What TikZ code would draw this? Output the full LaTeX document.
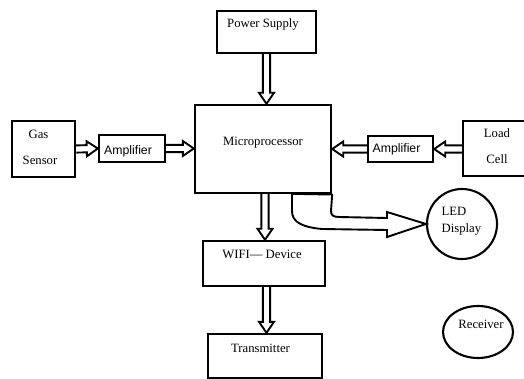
\documentclass[tikz,border=0pt]{standalone}
\usepackage{fontspec}
\setmainfont{Liberation Serif}
\newfontfamily\arialfont{Liberation Sans}
\usetikzlibrary{calc,shapes.geometric}
\tikzset{
  box/.style={draw, line width=2.4pt, rectangle, inner sep=0pt},
  roundbox/.style={draw, line width=2.1pt, inner sep=0pt},
  lbl/.style={font=\fontsize{12.7}{14}\selectfont, inner sep=0pt},
  slbl/.style={font=\arialfont\fontsize{12.3}{14}\selectfont, inner sep=0pt},
  harrow/.style={draw, line width=1.9pt, line join=miter},
}
\newcommand\hollowarrow[2]{%
  \coordinate (hA) at (#1);
  \coordinate (hB) at (#2);
  \coordinate (hP) at ($(hB)!11pt!(hA)$);
  \draw[harrow] ($(hA)!3.6pt!90:(hB)$) -- ($(hP)!3.6pt!90:(hB)$) -- ($(hP)!7.5pt!90:(hB)$)
     -- (hB) -- ($(hP)!7.5pt!-90:(hB)$) -- ($(hP)!3.6pt!-90:(hB)$) -- ($(hA)!3.6pt!-90:(hB)$);
}
\begin{document}
\begin{tikzpicture}[x=1pt,y=-1pt]
\useasboundingbox (0,0) rectangle (524,379);
% boxes
\node[box, minimum width=99pt, minimum height=42pt] (power) at (266.5,32) {};
\node[box, minimum width=136pt, minimum height=88pt] (micro) at (263,149) {};
\node[box, minimum width=63pt, minimum height=56pt] (gas) at (43.5,149) {};
\node[box, minimum width=66pt, minimum height=27pt] (ampL) at (132,148.5) {};
\node[box, minimum width=65pt, minimum height=26pt] (ampR) at (400.5,149) {};
\node[box, minimum width=70pt, minimum height=55pt] (load) at (498,148.5) {};
\node[box, minimum width=122pt, minimum height=45pt] (wifi) at (264,263.5) {};
\node[box, minimum width=114pt, minimum height=44pt] (trans) at (265,356) {};
\node[roundbox, circle, minimum size=70pt] (led) at (462,224) {};
\node[roundbox, ellipse, minimum width=70pt, minimum height=52pt] (recv) at (478,332) {};
% texts
\node[lbl] (powert) at (263,24) {Power Supply};
\node[lbl] (microt) at (263,143) {Microprocessor};
\node[lbl] (gast1) at (38.5,134) {Gas};
\node[lbl] (gast2) at (40,160) {Sensor};
\node[slbl] (ampLt) at (128,151) {Amplifier};
\node[slbl] (ampRt) at (396.5,149) {Amplifier};
\node[lbl] (loadt1) at (497,133) {Load};
\node[lbl] (loadt2) at (497,159) {Cell};
\node[lbl] (wifit) at (262,254) {WIFI\textemdash\ Device};
\node[lbl] (transt) at (260.5,348) {Transmitter};
\node[lbl, anchor=west] (ledt1) at (441.5,211) {LED};
\node[lbl, anchor=west] (ledt2) at (441.5,229) {Display};
\node[lbl] (recvt) at (481,324) {Receiver};
% straight hollow arrows
\hollowarrow{power.south}{power.south |- micro.north}
\hollowarrow{gas.east}{ampL.west}
\hollowarrow{ampL.east}{micro.west |- ampL.east}
\hollowarrow{load.west |- ampR.east}{ampR.east}
\hollowarrow{ampR.west}{micro.east |- ampR.west}
\coordinate (mw) at ($(micro.south)+(2,0)$);
\hollowarrow{mw}{mw |- wifi.north}
\coordinate (wt) at ($(wifi.south)+(2.5,0)$);
\hollowarrow{wt}{wt |- trans.north}
% curved hollow arrow to LED display
\draw[harrow] (micro.south east) -- (331,211) .. controls (331,215) and (333,217) .. (339,217)
  -- (387,218) -- (387,212) -- (led.west) -- (387,237) -- (387,230)
  -- (322,229) .. controls (300,227) and (292,221) .. (292,211) -- (292,193);
\draw[line width=2.6pt] (292,193.5) -- (micro.south east);
\end{tikzpicture}
\end{document}
